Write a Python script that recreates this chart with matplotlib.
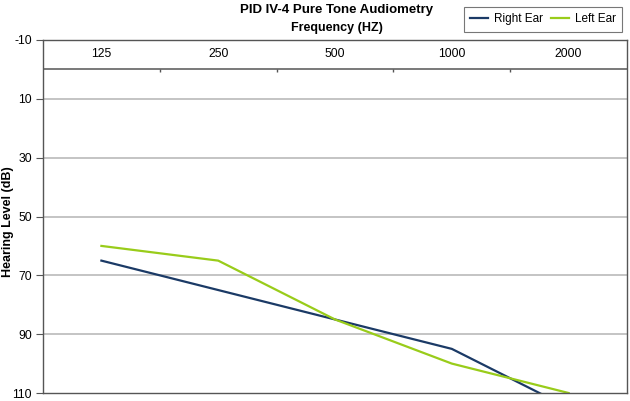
import numpy as np
import matplotlib
matplotlib.use('Agg')
import matplotlib.pyplot as plt

# Audiogram values
frequencies = ['125', '250', '500', '1000', '2000']
right_ear = [65, 75, 85, 95, 115]
left_ear = [60, 65, 85, 100, 110]
y_ticks = [-10, 10, 30, 50, 70, 90, 110]

plt.rcParams['font.family'] = ['Liberation Sans', 'DejaVu Sans']
plt.rcParams['axes.unicode_minus'] = False

fig = plt.figure(figsize=(6.3, 4.01), dpi=100)
ax = fig.add_axes([43 / 630, 1 - 393 / 401, 584 / 630, 353 / 401])

x = np.arange(len(frequencies))
ax.plot(x, right_ear, color='#1b3a66', lw=1.6, label='Right Ear')
ax.plot(x, left_ear, color='#99cc1a', lw=1.6, label='Left Ear')

ax.set_xlim(-0.5, len(frequencies) - 0.5)
ax.set_ylim(110, -10)
ax.set_yticks(y_ticks)
ax.tick_params(axis='y', labelsize=8.8, length=5, color='#555555', pad=3)
ax.set_xticks([])

# gridlines at inner ticks
for v in y_ticks[1:-1]:
    ax.axhline(v, color='#b4b4b4', lw=1.1, zorder=0)

# category axis crossing at 0, labels above it
ax.axhline(0, color='#555555', lw=1.1, zorder=1)
ax.vlines(x[:-1] + 0.5, 0, 0.8, color='#555555', lw=1.0)
for xi, lab in zip(x, frequencies):
    ax.text(xi, -5.2, lab, ha='center', va='center', fontsize=8.8)

for s in ax.spines.values():
    s.set_color('#555555')
    s.set_linewidth(1.0)

fig.text(8 / 630, 1 - 222 / 401, 'Hearing Level (dB)', rotation=90,
         ha='center', va='center', fontsize=9, fontweight='bold')
fig.text(0.5 + 22 / 630, 1 - 10 / 401, 'PID IV-4 Pure Tone Audiometry',
         ha='center', va='center', fontsize=9.5, fontweight='bold')
fig.text(0.5 + 22 / 630, 1 - 28 / 401, 'Frequency (HZ)',
         ha='center', va='center', fontsize=9, fontweight='bold')

leg = fig.legend(*ax.get_legend_handles_labels(), loc='upper right',
                 bbox_to_anchor=(622 / 630, 1 - 7 / 401), ncol=2,
                 fontsize=8.5, frameon=True, fancybox=False, handlelength=1.5,
                 handletextpad=0.5, columnspacing=0.7, borderpad=0.55,
                 borderaxespad=0)
leg.get_frame().set_edgecolor('#555555')
leg.get_frame().set_linewidth(0.8)

fig.savefig('out.png', dpi=100)
